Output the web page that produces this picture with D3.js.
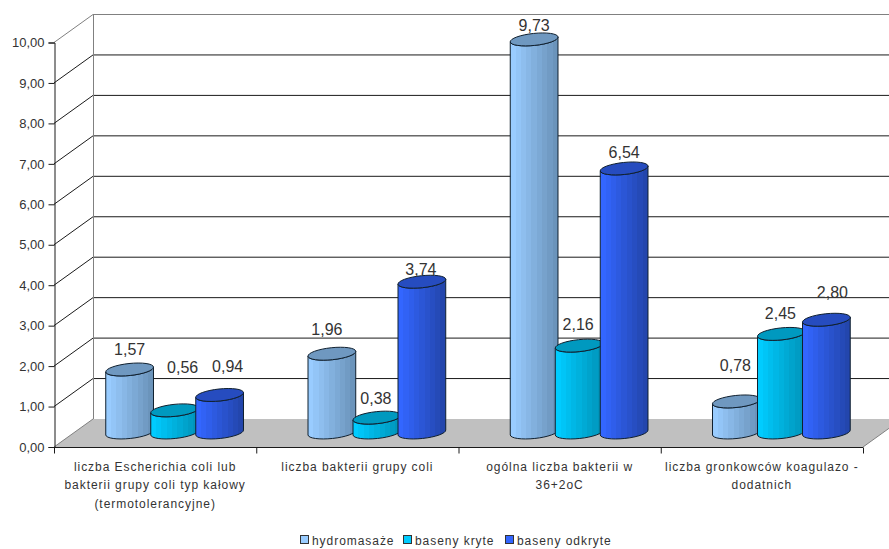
<!DOCTYPE html>
<html><head><meta charset="utf-8">
<script src="https://cdn.jsdelivr.net/npm/d3@7"></script>
<style>html,body{margin:0;background:#fff;overflow:hidden}svg{display:block}text{font-family:"Liberation Sans",Arial,sans-serif;fill:#333}</style>
</head><body><svg id="c" width="889" height="549"></svg>
<script>
const categories=[
 ["liczba Escherichia coli lub","bakterii grupy coli typ kałowy","(termotolerancyjne)"],
 ["liczba bakterii grupy coli"],
 ["ogólna liczba bakterii w","36+2oC"],
 ["liczba gronkowców koagulazo -","dodatnich"]];
const seriesNames=["hydromasaże","baseny kryte","baseny odkryte"];
const hydromasaze=[1.57,1.96,9.73,0.78];
const basenyKryte=[0.56,0.38,2.16,2.45];
const basenyOdkryte=[0.94,3.74,6.54,2.80];
const seriesValues=[hydromasaze,basenyKryte,basenyOdkryte];
const yTicks=d3.range(0,11);
const fmt=v=>v.toFixed(2).replace(".",",");

// layout
const W=889,H=549,L=54,R=863,Y0=447,Y10=42.5,DX=39,DY=-28;
const seriesColors=[["#99ccff","#6b94bb","#6f98c0"],["#00ccff","#0095bb","#0099bf"],["#3366ff","#2346ad","#264cbf"]];
const labelShift=[[[0,-19],[8,-42],[8,-28]],[[-5,-24],[-1,-19],[-1,-12]],[[0,-13],[-1,-21],[0,-15]],[[-1,-35],[-1,-20],[6,-27]]];

const svg=d3.select("#c");
const x=d3.scaleBand().domain(d3.range(categories.length)).range([L,R]);
const y=d3.scaleLinear().domain([0,10]).range([Y0,Y10]);
const inner=d3.scaleBand().domain(d3.range(seriesNames.length)).range([0,135]);

const defs=svg.append("defs");
seriesColors.forEach((c,i)=>{
  const g=defs.append("linearGradient").attr("id","g"+i);
  const steps=9;
  const col=d3.interpolateRgb(c[0],c[1]);
  d3.range(steps).forEach(k=>{
    g.append("stop").attr("offset",k/steps).attr("stop-color",col(k/(steps-1)));
    g.append("stop").attr("offset",(k+1)/steps).attr("stop-color",col(k/(steps-1)));
  });
});

// walls + floor
svg.append("path").attr("d",`M${L},${Y0}L${R},${Y0}L${R+DX},${Y0+DY}L${L+DX},${Y0+DY}Z`).attr("fill","#c0c0c0");
const grid=svg.append("g");
yTicks.slice(1).forEach(t=>{
  const yy=y(t);
  grid.append("path").attr("d",`M${L},${yy}L${L+DX},${yy+DY}L${W},${yy+DY}`)
    .attr("fill","none").attr("stroke",t===10?"#808080":"#1a1a1a").attr("stroke-width",1);
});
grid.append("line").attr("x1",L+DX+.5).attr("x2",L+DX+.5).attr("y1",y(10)+DY).attr("y2",Y0+DY).attr("stroke","#808080");
grid.append("line").attr("x1",L).attr("y1",Y0).attr("x2",L+DX).attr("y2",Y0+DY).attr("stroke","#808080");
grid.append("line").attr("x1",R).attr("y1",Y0).attr("x2",R+DX).attr("y2",Y0+DY).attr("stroke","#808080");

// axes
const ay=svg.append("g").attr("transform",`translate(${L+.5},0)`).call(d3.axisLeft(y).tickValues(yTicks).tickFormat(fmt).tickSize(6).tickPadding(4));
ay.selectAll("path,line").attr("stroke","#1a1a1a");
ay.selectAll("text").attr("font-size",13).style("font-family",'"Liberation Sans",Arial,sans-serif').style("fill","#333");
const ax=svg.append("g").attr("transform",`translate(0,${Y0+.5})`);
ax.append("line").attr("x1",L).attr("x2",R).attr("stroke","#1a1a1a");
x.domain().concat(categories.length).forEach(i=>{
  const px=i<categories.length?x(i):R;
  ax.append("line").attr("x1",px+.5).attr("x2",px+.5).attr("y1",0).attr("y2",6).attr("stroke","#1a1a1a");
});
categories.forEach((lines,i)=>{
  lines.forEach((s,k)=>{
    ax.append("text").attr("x",x(i)+x.bandwidth()/2).attr("y",23+k*18.5).attr("text-anchor","middle").attr("font-size",12).attr("letter-spacing",.95).text(s);
  });
});

// cylinders
const RX=24,RY=6,TILT=-6;
const baseY=Y0+DY/2-.5;
const ell=(cx,cy)=>{const t=TILT*Math.PI/180,dx=RX*Math.cos(t),dy=RX*Math.sin(t);return {x1:cx-dx,y1:cy-dy,x2:cx+dx,y2:cy+dy,arc:`A${RX},${RY} ${TILT} 0 `};};
categories.forEach((_,i)=>{
  seriesNames.forEach((_,s)=>{
    const v=seriesValues[s][i];
    const cx=x(i)+x.bandwidth()/2+DX/2+inner(s)+inner.bandwidth()/2-inner.range()[1]/2;
    const top=y(v)+DY/2, bot=baseY;
    const a=ell(cx,top), b=ell(cx,bot);
    svg.append("path").attr("d",`M${a.x1},${a.y1}L${b.x1},${b.y1}${b.arc}0 ${b.x2},${b.y2}L${a.x2},${a.y2}${a.arc}1 ${a.x1},${a.y1}Z`)
      .attr("fill",`url(#g${s})`).attr("stroke","#10202f").attr("stroke-width",1);
    svg.append("path").attr("d",`M${a.x1},${a.y1}${a.arc}1 ${a.x2},${a.y2}${a.arc}1 ${a.x1},${a.y1}Z`)
      .attr("fill",seriesColors[s][2]).attr("stroke","#10202f").attr("stroke-width",1);
  });
});
categories.forEach((_,i)=>{
  seriesNames.forEach((_,s)=>{
    const v=seriesValues[s][i];
    const cx=x(i)+x.bandwidth()/2+DX/2+inner(s)+inner.bandwidth()/2-inner.range()[1]/2;
    const sh=labelShift[i][s];
    svg.append("text").attr("x",cx+sh[0]).attr("y",y(v)+DY/2+sh[1]+5).attr("text-anchor","middle").attr("font-size",16).text(fmt(v));
  });
});

// legend
const lx=[300,403,505];
const lg=svg.append("g").attr("transform","translate(0,535)");
seriesNames.forEach((n,s)=>{
  lg.append("rect").attr("x",lx[s]+.5).attr("y",.5).attr("width",8).attr("height",8).attr("fill",seriesColors[s][0]).attr("stroke","#333");
  lg.append("text").attr("x",lx[s]+12).attr("y",10).attr("font-size",12).attr("letter-spacing",.95).text(n);
});
</script></body></html>
